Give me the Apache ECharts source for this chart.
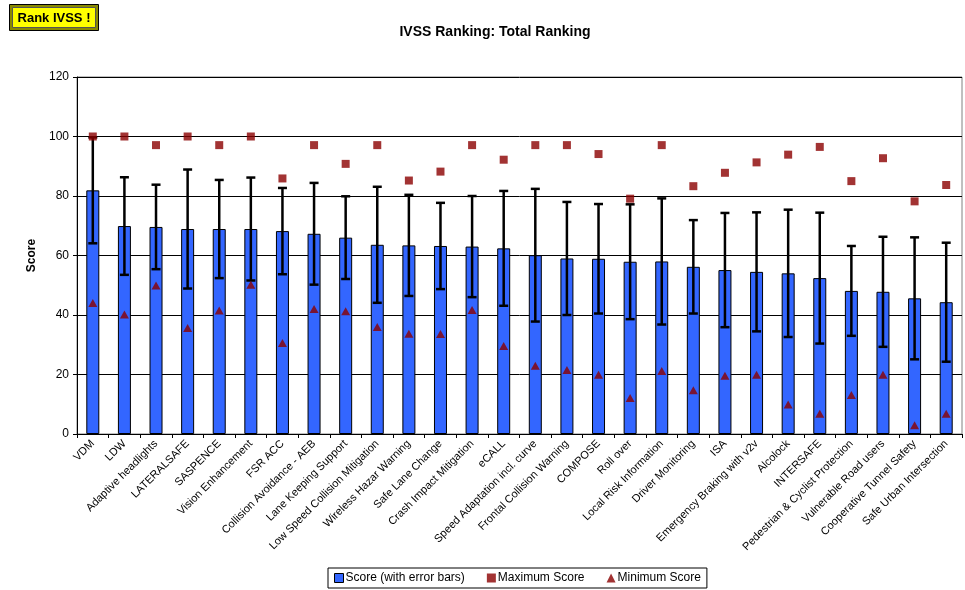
<!DOCTYPE html>
<html>
<head>
<meta charset="utf-8">
<script src="https://cdn.jsdelivr.net/npm/echarts@6/dist/echarts.min.js"></script>
<style>
  html, body { margin: 0; padding: 0; background: #fff; }
</style>
</head>
<body>
<div id="chart" style="width: 965px; height: 590px"></div>
<script>
const categories = [
  'VDM', 'LDW', 'Adaptive headlights', 'LATERALSAFE', 'SASPENCE', 'Vision Enhancement',
  'FSR ACC', 'Collision Avoidance - AEB', 'Lane Keeping Support', 'Low Speed Collision Mitigation',
  'Wireless Hazar Warning', 'Safe Lane Change', 'Crash Impact Mitigation', 'eCALL',
  'Speed Adaptation incl. curve', 'Frontal Collision Warning', 'COMPOSE', 'Roll over',
  'Local Risk Information', 'Driver Monitoring', 'ISA', 'Emergency Braking with v2v',
  'Alcolock', 'INTERSAFE', 'Pedestrian & Cyclist Protection', 'Vulnerable Road users',
  'Cooperative Tunnel Safety', 'Safe Urban Intersection'
]

const score = [
  81.9, 69.9, 69.6, 68.9, 68.9, 68.9, 68.2, 67.3, 66.0, 63.6,
  63.4, 63.2, 63.0, 62.4, 60.1, 59.0, 58.9, 57.9, 58.0, 56.2,
  55.1, 54.5, 54.0, 52.4, 48.1, 47.8, 45.6, 44.3
]

// half length of the error bar
const scoreErr = [
  17.8, 16.4, 14.2, 20.0, 16.5, 17.3, 14.5, 17.1, 13.9, 19.5,
  17.0, 14.5, 17.0, 19.3, 22.3, 19.0, 18.4, 19.3, 21.2, 15.7,
  19.2, 20.0, 21.4, 22.0, 15.1, 18.5, 20.5, 20.0
]

const maxScore = [
  100, 100, 97.1, 100, 97.1, 100, 85.9, 97.1, 90.8, 97.1,
  85.2, 88.2, 97.1, 92.2, 97.1, 97.1, 94.1, 79.1, 97.1, 83.3,
  87.8, 91.3, 93.9, 96.5, 85.0, 92.7, 78.2, 83.7
]

const minScore = [
  44.0, 40.2, 49.9, 35.6, 41.5, 50.2, 30.6, 42.0, 41.3, 36.0,
  33.7, 33.6, 41.7, 29.6, 22.9, 21.5, 19.9, 12.1, 21.2, 14.7,
  19.6, 19.9, 9.9, 6.8, 13.1, 19.9, 2.9, 6.8
]

const yTicks = { min: 0, max: 120, interval: 20 }

const font = '"Liberation Sans", Arial, sans-serif'
const darkRed = '#8b0000'

const errData = score.map((s, i) => [i, s - scoreErr[i], s + scoreErr[i]])

function renderErrorBar(params, api) {
  const x = api.value(0)
  const lo = api.coord([x, api.value(1)])
  const hi = api.coord([x, api.value(2)])
  const half = 4.5
  const style = { stroke: '#000', lineWidth: 2.5 }
  return {
    type: 'group',
    children: [
      { type: 'line', shape: { x1: lo[0], y1: lo[1], x2: hi[0], y2: hi[1] }, style },
      { type: 'line', shape: { x1: hi[0] - half, y1: hi[1], x2: hi[0] + half, y2: hi[1] }, style },
      { type: 'line', shape: { x1: lo[0] - half, y1: lo[1], x2: lo[0] + half, y2: lo[1] }, style }
    ]
  }
}

const chart = echarts.init(document.getElementById('chart'))

const option = {
  animation: false,
  textStyle: { fontFamily: font },
  title: {
    text: 'IVSS Ranking: Total Ranking',
    left: 490,
    textAlign: 'center',
    top: 20,
    textStyle: { fontFamily: font, fontSize: 14, fontWeight: 'bold', color: '#000' }
  },
  graphic: [
    {
      type: 'group',
      left: 9,
      top: 4,
      children: [
        { type: 'rect', shape: { x: 0, y: 0, width: 89, height: 26 }, style: { fill: '#8a8a00', stroke: '#000', lineWidth: 1 } },
        { type: 'rect', shape: { x: 3, y: 3, width: 83, height: 20 }, style: { fill: '#ffff00', stroke: '#555', lineWidth: 1 } },
        {
          type: 'text',
          x: 44.5,
          y: 13.5,
          style: {
            text: 'Rank IVSS !',
            fill: '#000',
            font: 'bold 13px ' + font,
            align: 'center',
            verticalAlign: 'middle'
          }
        }
      ]
    }
  ],
  legend: {
    left: 328,
    bottom: 2,
    itemGap: 22,
    itemWidth: 9,
    itemHeight: 9,
    padding: [4, 6, 4, 6],
    borderColor: '#000',
    borderWidth: 1,
    borderRadius: 0,
    textStyle: { fontFamily: font, fontSize: 12, color: '#000', padding: [0, 0, 0, -3] },
    data: [
      { name: 'Score (with error bars)', icon: 'rect', itemStyle: { color: '#3366ff', borderColor: '#000', borderWidth: 1 } },
      { name: 'Maximum Score', icon: 'rect' },
      { name: 'Minimum Score', icon: 'triangle' }
    ]
  },
  grid: {
    left: 77,
    right: 3,
    top: 77,
    bottom: 156,
    show: true,
    borderColor: '#808080',
    borderWidth: 1
  },
  xAxis: {
    type: 'category',
    data: categories,
    axisLine: { lineStyle: { color: '#000', width: 1 } },
    axisTick: { show: true, length: 4, lineStyle: { color: '#000' } },
    axisLabel: {
      interval: 0,
      rotate: 45,
      fontSize: 11,
      color: '#000',
      margin: 8,
      fontFamily: font
    }
  },
  yAxis: {
    type: 'value',
    min: yTicks.min,
    max: yTicks.max,
    interval: yTicks.interval,
    name: 'Score',
    nameLocation: 'middle',
    nameGap: 38,
    nameRotate: 90,
    nameTextStyle: { fontFamily: font, fontSize: 12, fontWeight: 'bold', color: '#000' },
    axisLine: { show: true, lineStyle: { color: '#000', width: 1 } },
    axisTick: { show: true, length: 4, lineStyle: { color: '#000' } },
    axisLabel: { fontSize: 12, color: '#000', margin: 8, fontFamily: font },
    splitLine: { show: true, lineStyle: { color: '#000', width: 1 } }
  },
  series: [
    {
      name: 'Score (with error bars)',
      type: 'bar',
      data: score,
      barWidth: 13,
      itemStyle: { color: '#3366ff', borderColor: '#000', borderWidth: 1 },
      z: 2
    },
    {
      name: 'errors',
      type: 'custom',
      data: errData,
      renderItem: renderErrorBar,
      encode: { x: 0, y: [1, 2] },
      z: 3
    },
    {
      name: 'Maximum Score',
      type: 'scatter',
      data: maxScore,
      symbol: 'rect',
      symbolSize: 8,
      itemStyle: { color: darkRed },
      z: 4
    },
    {
      name: 'Minimum Score',
      type: 'scatter',
      data: minScore,
      symbol: 'triangle',
      symbolSize: [9, 8],
      itemStyle: { color: darkRed },
      z: 4
    }
  ]
}

chart.setOption(option)
window.addEventListener('resize', () => chart.resize())
</script>
</body>
</html>
